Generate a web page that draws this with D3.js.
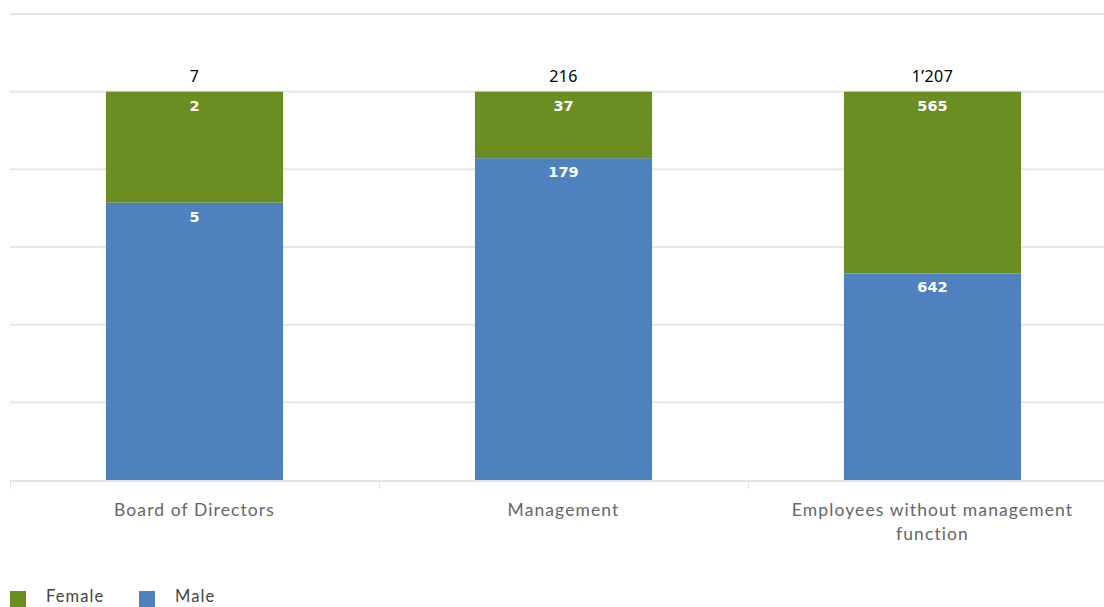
<!DOCTYPE html>
<html>
<head>
<meta charset="utf-8">
<script src="https://cdn.jsdelivr.net/npm/d3@7"></script>
<style>
  html, body { margin: 0; padding: 0; background: #fff; overflow: hidden; }
  svg { display: block; }
</style>
</head>
<body>
<svg id="chart" width="1104" height="607"></svg>
<script>
// Headcount by function and gender
const categories = ["Board of Directors", "Management", "Employees without management function"];
const female = [2, 37, 565];
const male = [5, 179, 642];
const totals = ["7", "216", "1’207"];
const seriesNames = ["Female", "Male"];
const seriesColors = ["#6b8e23", "#4f81bf"];
const yTicks = [0, 0.2, 0.4, 0.6, 0.8, 1.0, 1.2];

const svg = d3.select("#chart");
const plotLeft = 10, plotRight = 1117, plotTop = 14, plotBottom = 480;

const x = d3.scaleBand().domain(categories).range([plotLeft, plotRight]).paddingInner(0.52).paddingOuter(0.26);
const y = d3.scaleLinear().domain([0, 1.2]).range([plotBottom, plotTop]);

// horizontal grid
svg.append("g").selectAll("line").data(yTicks.slice(1)).join("line")
  .attr("x1", plotLeft).attr("x2", 1104)
  .attr("y1", d => y(d)).attr("y2", d => y(d))
  .attr("stroke", "#e6e6e6").attr("stroke-width", 2);

// stacked shares
const rows = categories.map((c, i) => {
  const t = female[i] + male[i];
  return { cat: c, male: male[i], female: female[i], mShare: male[i] / t, total: totals[i] };
});

const g = svg.append("g");
g.selectAll("rect.male").data(rows).join("rect")
  .attr("x", d => x(d.cat)).attr("width", x.bandwidth())
  .attr("y", d => y(d.mShare)).attr("height", d => y(0) - y(d.mShare))
  .attr("fill", seriesColors[1]);
g.selectAll("rect.female").data(rows).join("rect")
  .attr("x", d => x(d.cat)).attr("width", x.bandwidth())
  .attr("y", d => y(1)).attr("height", d => y(d.mShare) - y(1))
  .attr("fill", seriesColors[0]);

// baseline and category ticks
svg.append("line").attr("x1", plotLeft).attr("x2", 1104).attr("y1", plotBottom + 1).attr("y2", plotBottom + 1)
  .attr("stroke", "#e3e3e3").attr("stroke-width", 2);
const step = x.step();
svg.append("g").selectAll("line").data(categories).join("line")
  .attr("x1", d => Math.round(x(d) - (step - x.bandwidth()) / 2) + 0.5)
  .attr("x2", d => Math.round(x(d) - (step - x.bandwidth()) / 2) + 0.5)
  .attr("y1", plotBottom + 2).attr("y2", plotBottom + 9)
  .attr("stroke", "#dde4ef").attr("stroke-width", 1);

// value labels inside segments
const lblFont = "'DejaVu Sans', sans-serif";
g.selectAll("text.f").data(rows).join("text")
  .attr("x", d => x(d.cat) + x.bandwidth() / 2).attr("y", y(1) + 19)
  .attr("text-anchor", "middle").attr("fill", "#fff")
  .attr("font-family", lblFont).attr("font-weight", "bold").attr("font-size", 14.5)
  .text(d => d.female);
g.selectAll("text.m").data(rows).join("text")
  .attr("x", d => x(d.cat) + x.bandwidth() / 2).attr("y", d => y(d.mShare) + 19)
  .attr("text-anchor", "middle").attr("fill", "#fff")
  .attr("font-family", lblFont).attr("font-weight", "bold").attr("font-size", 14.5)
  .text(d => d.male);

// totals
g.selectAll("text.t").data(rows).join("text")
  .attr("x", d => x(d.cat) + x.bandwidth() / 2).attr("y", y(1) - 10)
  .attr("text-anchor", "middle").attr("fill", "#000")
  .attr("font-family", "'Noto Sans', sans-serif").attr("font-size", 16).attr("letter-spacing", 0.4)
  .text(d => d.total);

// category labels (wrapped)
const catFont = "Lato, 'Noto Sans', sans-serif";
const catG = svg.append("g");
categories.forEach(c => {
  const lines = c === "Employees without management function"
    ? ["Employees without management", "function"] : [c];
  const t = catG.append("text")
    .attr("x", x(c) + x.bandwidth() / 2).attr("y", 516)
    .attr("text-anchor", "middle").attr("fill", "#666")
    .attr("font-family", catFont).attr("font-size", 17.5).attr("letter-spacing", 1.1);
  lines.forEach((l, i) => t.append("tspan").attr("x", x(c) + x.bandwidth() / 2).attr("dy", i ? 24 : 0).text(l));
});

// legend along the bottom edge
const legend = svg.append("g");
const legX = [10, 139];
seriesNames.forEach((n, i) => {
  legend.append("rect").attr("x", legX[i]).attr("y", 591).attr("width", 16).attr("height", 16).attr("fill", seriesColors[i]);
  legend.append("text").attr("x", legX[i] + 36).attr("y", 602)
    .attr("fill", "#444").attr("font-family", catFont).attr("font-size", 16.5).attr("letter-spacing", 1.1)
    .text(n);
});
</script>
</body>
</html>
